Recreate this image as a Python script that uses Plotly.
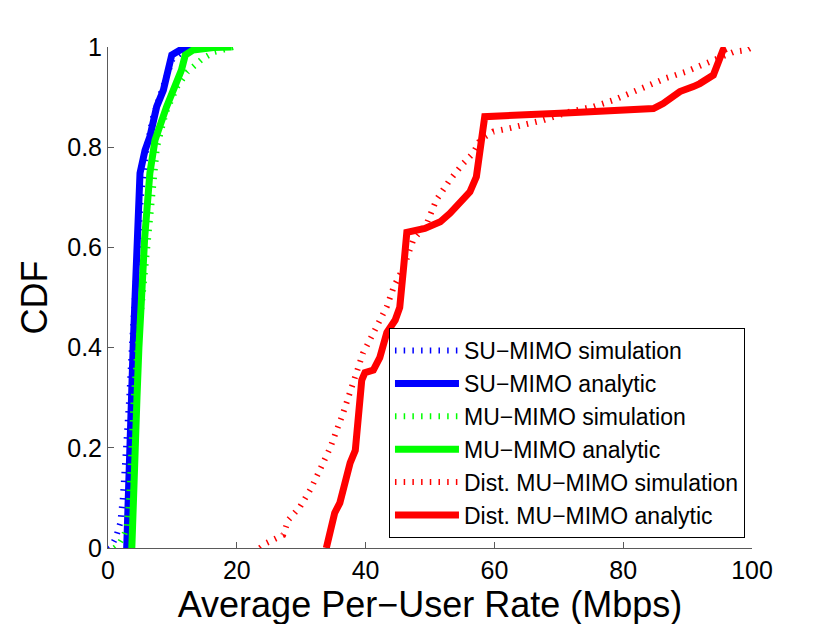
import plotly.graph_objects as go

# ---- data ----
su_sim_x = [0.0, 0.6, 1.2, 1.9, 2.3, 2.9, 3.3, 3.7, 4.2, 4.6, 5.1, 6.0, 7.0, 8.0, 9.0, 10.0, 11.5, 13.0]
su_sim_y = [0.0, 0.006, 0.02, 0.05, 0.1, 0.2, 0.3, 0.4, 0.5, 0.6, 0.7, 0.8, 0.86, 0.9, 0.94, 0.975, 0.99, 1.0]

su_an_x = [2.9, 3.1, 3.4, 3.7, 3.9, 4.2, 4.45, 4.97, 5.75, 6.5, 7.56, 8.6, 9.1, 9.9, 11.2, 13.8]
su_an_y = [0.0, 0.1, 0.2, 0.3, 0.4, 0.5, 0.615, 0.748, 0.794, 0.821, 0.881, 0.914, 0.941, 0.984, 0.994, 1.0]

mu_sim_x = [1.0, 1.6, 2.4, 2.9, 3.3, 3.6, 4.0, 4.6, 5.3, 6.0, 6.7, 7.6, 9.0, 10.7, 12.3, 14.5, 16.5, 18.5, 19.5]
mu_sim_y = [0.0, 0.006, 0.023, 0.04, 0.1, 0.2, 0.3, 0.4, 0.5, 0.6, 0.7, 0.8, 0.87, 0.92, 0.95, 0.975, 0.99, 0.997, 1.0]

mu_an_x = [3.7, 3.9, 4.2, 4.5, 4.8, 5.2, 5.7, 6.5, 7.3, 9.1, 10.4, 11.4, 12.0, 13.2, 16.4, 19.2]
mu_an_y = [0.0, 0.1, 0.2, 0.3, 0.4, 0.5, 0.62, 0.748, 0.814, 0.881, 0.921, 0.954, 0.984, 0.994, 0.999, 1.0]

dist_sim_x = [23.6, 24.6, 27.2, 28.0, 29.8, 31.4, 32.9, 34.5, 36.5, 38.1, 39.6, 41.2, 43.3, 44.4, 45.9,
              47.4, 49.5, 51.0, 53.1, 55.2, 56.7, 57.8, 59.8, 62.4, 67.6, 71.7, 75.4, 78.5, 81.6,
              83.6, 86.7, 89.8, 93.0, 95.0, 97.1, 99.2, 100.0]
dist_sim_y = [0.0, 0.01, 0.026, 0.056, 0.082, 0.116, 0.156, 0.2, 0.269, 0.335, 0.389, 0.429, 0.482, 0.522, 0.56,
              0.615, 0.648, 0.695, 0.735, 0.768, 0.788, 0.815, 0.831, 0.838, 0.854, 0.871, 0.881, 0.894, 0.911,
              0.924, 0.938, 0.951, 0.967, 0.98, 0.99, 0.994, 1.0]

dist_an_x = [33.9, 34.5, 35.2, 36.0, 37.0, 37.6, 38.4, 38.9, 39.4, 39.9, 41.2, 42.2, 43.3, 44.6, 45.3, 45.9,
             46.4, 49.2, 51.6, 53.1, 54.7, 56.2, 57.2, 57.8, 58.5, 70.2, 78.0, 84.7, 86.2, 87.3, 88.8,
             90.9, 91.9, 94.0, 94.5, 95.5, 96.0]
dist_an_y = [0.0, 0.036, 0.07, 0.09, 0.15, 0.17, 0.195, 0.27, 0.335, 0.35, 0.355, 0.38, 0.43, 0.455, 0.48, 0.56,
             0.63, 0.638, 0.651, 0.668, 0.688, 0.711, 0.741, 0.80, 0.861, 0.868, 0.871, 0.877, 0.887, 0.897, 0.911,
             0.921, 0.927, 0.944, 0.961, 0.994, 0.997]

x_ticks = [0, 20, 40, 60, 80, 100]
y_ticks = [0, 0.2, 0.4, 0.6, 0.8, 1]
y_ticklabels = ["0", "0.2", "0.4", "0.6", "0.8", "1"]

names = ["SU\u2212MIMO simulation", "SU\u2212MIMO analytic",
         "MU\u2212MIMO simulation", "MU\u2212MIMO analytic",
         "Dist. MU\u2212MIMO simulation", "Dist. MU\u2212MIMO analytic"]

series = [(su_sim_x, su_sim_y, "#0000ff", True), (su_an_x, su_an_y, "#0000ff", False),
          (mu_sim_x, mu_sim_y, "#00ff00", True), (mu_an_x, mu_an_y, "#00ff00", False),
          (dist_sim_x, dist_sim_y, "#ff0000", True), (dist_an_x, dist_an_y, "#ff0000", False)]

fig = go.Figure()
for i, ((xs, ys, col, dotted), nm) in enumerate(zip(series, names)):
    if dotted:
        line = dict(color=col, width=6, dash="1.5px,7.2px")
    else:
        line = dict(color=col, width=7)
    fig.add_trace(go.Scatter(x=xs, y=ys, mode="lines", name=nm, line=line,
                             legendgroup="g%d" % i))

FONT = "Liberation Sans, Arial, Helvetica, sans-serif"
axis_common = dict(showline=True, linecolor="#5a5a5a", linewidth=1, ticks="inside",
                   ticklen=6, tickcolor="#5a5a5a", showgrid=False, zeroline=False,
                   tickfont=dict(family=FONT, size=25, color="black"))

fig.update_layout(
    width=830, height=624,
    margin=dict(l=100, r=86, t=39, b=84, pad=0),
    paper_bgcolor="white", plot_bgcolor="white",
    font=dict(family=FONT, color="black"),
    xaxis=dict(range=[0, 100], tickvals=x_ticks, ticktext=[str(v) for v in x_ticks],
               title=dict(text="Average Per\u2212User Rate (Mbps)", font=dict(family=FONT, size=36), standoff=0),
               **axis_common),
    yaxis=dict(range=[0, 1], tickvals=y_ticks, ticktext=y_ticklabels,
               title=dict(text="CDF", font=dict(family=FONT, size=36), standoff=8),
               **axis_common),
    showlegend=True,
    legend=dict(x=0.4363, y=0.439, xanchor="left", yanchor="top",
                bgcolor="white", bordercolor="black", borderwidth=1,
                font=dict(family=FONT, size=23, color="black"),
                tracegroupgap=0, itemwidth=64),
)

fig.write_html("out.html")
